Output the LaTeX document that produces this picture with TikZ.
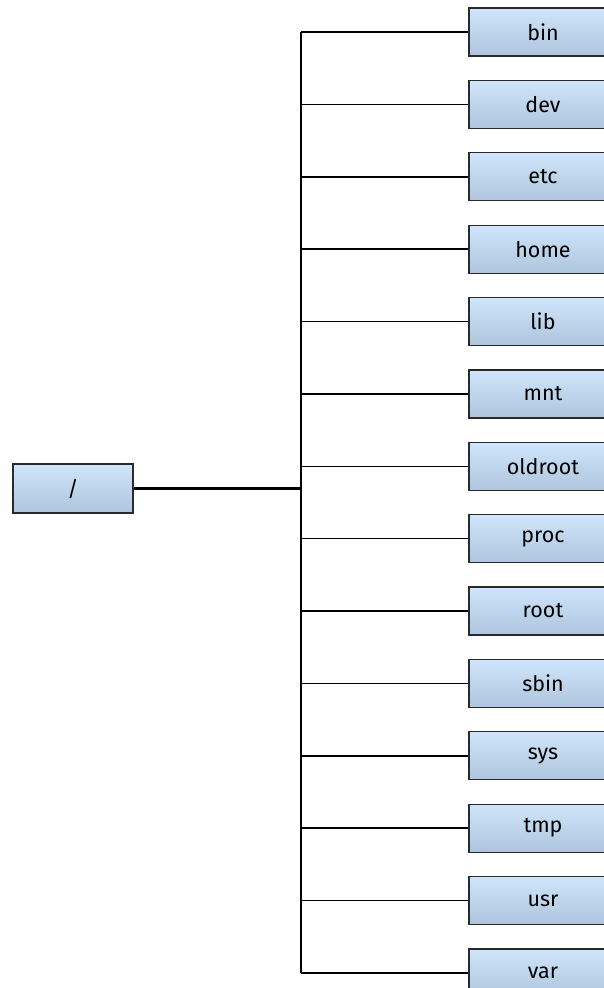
\documentclass[tikz,border=0pt]{standalone}
\usepackage{fontspec}
\setmainfont{Fira Sans}
\usepackage{tikz}
\usetikzlibrary{positioning,calc}
\definecolor{boxtop}{HTML}{CFE5FB}
\definecolor{boxbot}{HTML}{AEC5DD}
\definecolor{boxline}{HTML}{2A2A2A}
\tikzset{
  dirbox/.style = {draw=boxline,line width=1.2pt,top color=boxtop,bottom color=boxbot,
                   minimum width=148pt,minimum height=48pt,inner sep=0pt,
                   font=\fontsize{21.5}{24}\selectfont},
  rootbox/.style = {dirbox,minimum width=120pt,minimum height=49pt},
  branch/.style = {line width=1.5pt,black},
  trunk/.style  = {line width=2.6pt,black},
}

\begin{document}
\begin{tikzpicture}[x=1pt,y=1pt]
  \useasboundingbox (0,0) rectangle (604,-988);
  \coordinate (spine) at (301,0);
  \node[rootbox] (top) at (73,-488.5) {/};
  \foreach \name [count=\i from 0] in {bin,dev,etc,home,lib,mnt,oldroot,proc,root,sbin,sys,tmp,usr,var}{
    \node[dirbox] (d-\name) at (543,{-32-72.38*\i}) {\name};
    \draw[branch] (d-\name.west) -- (d-\name.west -| spine);
  }
  \draw[branch] (spine |- d-bin.west) -- (spine |- d-var.west);
  \draw[trunk] (top.east) -- (top.east -| spine);
\end{tikzpicture}
\end{document}
